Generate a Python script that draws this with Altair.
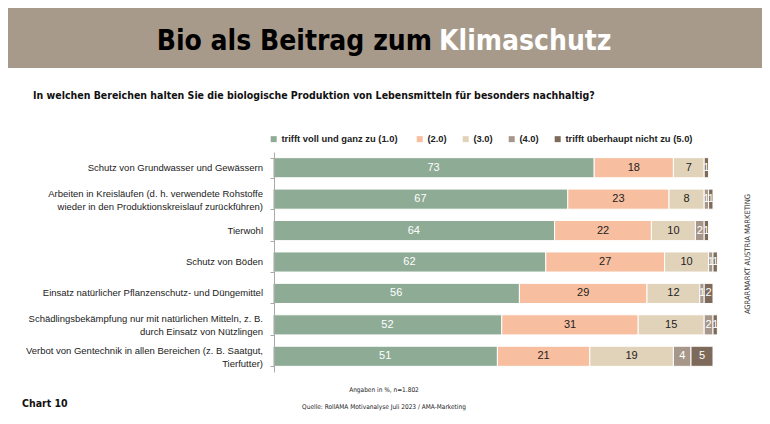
import altair as alt
import pandas as pd

items = [
    "Schutz von Grundwasser und Gewässern",
    "Arbeiten in Kreisläufen (d. h. verwendete Rohstoffe|wieder in den Produktionskreislauf zurückführen)",
    "Tierwohl",
    "Schutz von Böden",
    "Einsatz natürlicher Pflanzenschutz- und Düngemittel",
    "Schädlingsbekämpfung nur mit natürlichen Mitteln, z. B.|durch Einsatz von Nützlingen",
    "Verbot von Gentechnik in allen Bereichen (z. B. Saatgut,|Tierfutter)",
]
categories = [
    "trifft voll und ganz zu  (1.0)",
    "(2.0)",
    "(3.0)",
    "(4.0)",
    "trifft überhaupt nicht zu (5.0)",
]
colors = ["#8EAB96", "#F7BE9F", "#E1D3BA", "#A6978A", "#7E6A5A"]
v1 = [73, 67, 64, 62, 56, 52, 51]
v2 = [18, 23, 22, 27, 29, 31, 21]
v3 = [7, 8, 10, 10, 12, 15, 19]
v4 = [0, 1, 2, 1, 1, 2, 4]
v5 = [1, 1, 1, 1, 2, 1, 5]

rows = []
for i, it in enumerate(items):
    for k, vals in enumerate([v1, v2, v3, v4, v5]):
        if vals[i] > 0:
            rows.append({"item": it, "cat": categories[k], "k": k, "value": vals[i]})
df = pd.DataFrame(rows)

NARROW = "Liberation Sans Narrow, DejaVu Sans Condensed, Arial Narrow, sans-serif"
SANS = "Liberation Sans, Arial, sans-serif"

yscale = alt.Scale(domain=items, paddingInner=0.36, paddingOuter=0.18)
ysc = alt.Y("item:N", sort=items, scale=yscale,
            axis=alt.Axis(title=None, labels=False, tickBand="extent", tickSize=4, tickColor="#aaa",
                          domainColor="#aaa", domainWidth=1, tickWidth=1, zindex=1, offset=-1))

base = alt.Chart(df).transform_stack(
    stack="value", groupby=["item"], as_=["x0", "x1"], sort=[alt.SortField("k", order="ascending")]
)

bars = base.mark_bar(stroke="white", strokeWidth=1).encode(
    x=alt.X("x0:Q", scale=alt.Scale(domain=[0, 100], nice=False), axis=None),
    x2="x1:Q",
    y=ysc,
    color=alt.Color("cat:N", sort=categories,
                    scale=alt.Scale(domain=categories, range=colors),
                    legend=alt.Legend(orient="none", legendX=-4, legendY=-18, direction="horizontal",
                                      title=None, symbolType="square", symbolSize=36,
                                      symbolStrokeWidth=0, labelFont=SANS, labelFontSize=9.4,
                                      labelFontWeight="bold", labelColor="#222",
                                      columnPadding=14, labelOffset=3, labelLimit=300)),
)

labels = base.transform_calculate(
    mid="(datum.x0 + datum.x1) / 2",
    tc="(datum.k == 1 || datum.k == 2) ? '#222222' : '#ffffff'",
).mark_text(font=SANS, fontSize=11, baseline="middle").encode(
    x="mid:Q",
    y=alt.Y("item:N", sort=items),
    text="value:Q",
    color=alt.Color("tc:N", scale=None),
)

itemdf = pd.DataFrame({"item": items})
ylab1 = alt.Chart(itemdf).transform_filter("indexof(datum.item, '|') < 0").mark_text(
    font=SANS, fontSize=9.5, color="#222", align="right", baseline="middle", lineBreak="|", lineHeight=13
).encode(x=alt.value(-10), y=alt.Y("item:N", sort=items), text="item:N")
ylab2 = alt.Chart(itemdf).transform_filter("indexof(datum.item, '|') >= 0").mark_text(
    font=SANS, fontSize=9.5, color="#222", align="right", baseline="middle", lineBreak="|", lineHeight=13,
    dy=-5.5
).encode(x=alt.value(-10), y=alt.Y("item:N", sort=items), text="item:N")

one = pd.DataFrame({"a": [0]})
band = alt.Chart(one).mark_rect(color="#A89A8B").encode(
    x=alt.value(-265), x2=alt.value(489), y=alt.value(-144), y2=alt.value(-84)
)
t1 = alt.Chart(one).mark_text(text="Bio als Beitrag zum", font=NARROW, fontSize=28, fontWeight="bold",
                              color="#000", align="right", baseline="middle").encode(
    x=alt.value(159), y=alt.value(-110))
t2 = alt.Chart(one).mark_text(text="Klimaschutz", font=NARROW, fontSize=28, fontWeight="bold",
                              color="#fff", align="left", baseline="middle").encode(
    x=alt.value(166), y=alt.value(-110))
q = alt.Chart(one).mark_text(
    text="In welchen Bereichen halten Sie die biologische Produktion von Lebensmitteln für besonders nachhaltig?",
    font=NARROW, fontSize=10.5, fontWeight="bold", color="#111", align="left", baseline="middle").encode(
    x=alt.value(-240), y=alt.value(-56))
f1 = alt.Chart(one).mark_text(text="Angaben in %, n=1.802", font=NARROW, fontSize=6.5, color="#222",
                              align="center", baseline="middle").encode(x=alt.value(111), y=alt.value(238))
f2 = alt.Chart(one).mark_text(text="Quelle: RollAMA Motivanalyse Juli 2023 / AMA-Marketing", font=NARROW,
                              fontSize=6.5, color="#222", align="center", baseline="middle").encode(
    x=alt.value(111), y=alt.value(255))
c10 = alt.Chart(one).mark_text(text="Chart 10", font=NARROW, fontSize=10.5, fontWeight="bold", color="#111",
                               align="left", baseline="middle").encode(x=alt.value(-251), y=alt.value(252))
side = alt.Chart(one).mark_text(text="AGRARMARKT AUSTRIA MARKETING", font=NARROW, fontSize=7.5,
                                color="#333", angle=270, align="center", baseline="middle").encode(
    x=alt.value(475), y=alt.value(102))

chart = alt.layer(band, t1, t2, q, bars, labels, ylab1, ylab2, f1, f2, c10, side).properties(
    width=440, height=220,
    padding={"left": 265, "top": 144, "right": 49, "bottom": 44},
    autosize=alt.AutoSizeParams(type="none"),
    background="white",
).configure_view(stroke=None)

chart.save("out.html", embed_options={"renderer": "svg", "actions": False})
